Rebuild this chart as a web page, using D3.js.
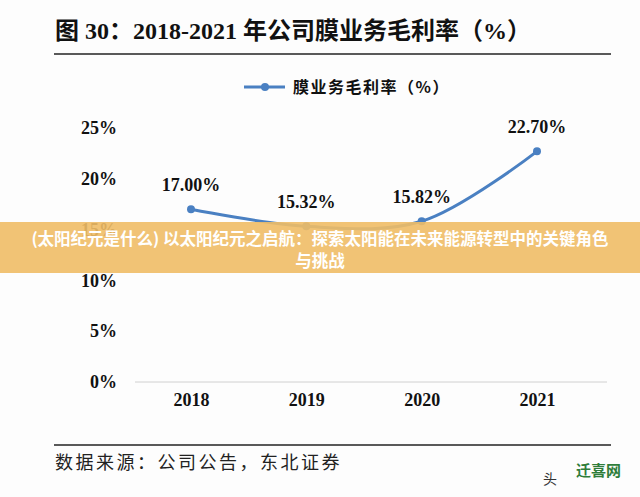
<!DOCTYPE html>
<html>
<head>
<meta charset="utf-8">
<script src="https://cdn.jsdelivr.net/npm/d3@7"></script>
<style>
  body { margin: 0; background: #fff; }
  svg { display: block; }
</style>
</head>
<body>
<div id="chart"></div>
<script>
// chart data
var years = ["2018", "2019", "2020", "2021"];
var margin = [17.00, 15.32, 15.82, 22.70];
var yTicks = [0, 5, 10, 15, 20, 25];
var titleText = "图  30：2018-2021 年公司膜业务毛利率（%）";
var legendText = "膜业务毛利率（%）";
var sourceText = "数据来源：公司公告，东北证券";
var bannerLines = ["(太阳纪元是什么) 以太阳纪元之启航：探索太阳能在未来能源转型中的关键角色", "与挑战"];

var totalWidth = 640, totalHeight = 497;
var serif = "'Liberation Serif', 'Times New Roman', serif";
var cjk = "'Noto Sans CJK SC', sans-serif";
var blue = "#4a80c2";

var svg = d3.select("#chart").append("svg")
    .attr("width", totalWidth)
    .attr("height", totalHeight);

svg.append("rect").attr("width", totalWidth).attr("height", totalHeight).attr("fill", "#fdfdfd");

// title + rules
svg.append("text")
    .attr("x", 55).attr("y", 39)
    .style("font-family", serif + ", " + cjk)
    .style("font-weight", "bold")
    .style("font-size", "24px")
    .attr("fill", "#111")
    .text(titleText);

svg.append("line").attr("x1", 54).attr("x2", 611).attr("y1", 54).attr("y2", 54)
    .attr("stroke", "#222").attr("stroke-width", 1.6);
svg.append("line").attr("x1", 54).attr("x2", 611).attr("y1", 445).attr("y2", 445)
    .attr("stroke", "#222").attr("stroke-width", 1.6);

// scales
var x = d3.scalePoint().domain(years).range([191, 537]);
var y = d3.scaleLinear().domain([0, 25]).range([382, 128]);

// baseline
svg.append("line").attr("x1", 135).attr("x2", 607).attr("y1", y(0)).attr("y2", y(0))
    .attr("stroke", "#d0d0d0").attr("stroke-width", 1);

// y axis labels
var yAxis = d3.axisLeft(y).tickValues(yTicks).tickSize(0).tickPadding(0)
    .tickFormat(function(d) { return d + "%"; });
var yA = svg.append("g").attr("transform", "translate(117,0)").call(yAxis);
yA.select(".domain").remove();
yA.selectAll("text")
    .style("font-family", serif).style("font-weight", "bold").style("font-size", "18px")
    .attr("fill", "#111");

// x axis labels
var xAxis = d3.axisBottom(x).tickSize(0).tickPadding(0);
var xA = svg.append("g").attr("transform", "translate(0,393)").call(xAxis);
xA.select(".domain").remove();
xA.selectAll("text")
    .style("font-family", serif).style("font-weight", "bold").style("font-size", "18px")
    .attr("fill", "#111");

// line
var line = d3.line()
    .x(function(d, i) { return x(years[i]); })
    .y(function(d) { return y(d); })
    .curve(d3.curveCatmullRom.alpha(0.5));

svg.append("path")
    .datum(margin)
    .attr("d", line)
    .attr("fill", "none")
    .attr("stroke", blue)
    .attr("stroke-width", 3);

svg.selectAll(".dot")
    .data(margin)
    .enter().append("circle")
    .attr("class", "dot")
    .attr("cx", function(d, i) { return x(years[i]); })
    .attr("cy", function(d) { return y(d); })
    .attr("r", 4)
    .attr("fill", blue);

svg.selectAll(".vlabel")
    .data(margin)
    .enter().append("text")
    .attr("class", "vlabel")
    .attr("x", function(d, i) { return x(years[i]); })
    .attr("y", function(d) { return y(d) - 18; })
    .attr("text-anchor", "middle")
    .style("font-family", serif).style("font-weight", "bold").style("font-size", "18px")
    .attr("fill", "#111")
    .text(function(d) { return d.toFixed(2) + "%"; });

// legend
svg.append("line").attr("x1", 244).attr("x2", 285).attr("y1", 87).attr("y2", 87)
    .attr("stroke", blue).attr("stroke-width", 3);
svg.append("circle").attr("cx", 265).attr("cy", 87).attr("r", 4).attr("fill", blue);
svg.append("text")
    .attr("x", 293).attr("y", 93)
    .style("font-family", cjk).style("font-weight", "bold").style("font-size", "16px")
    .style("letter-spacing", "1.5px")
    .attr("fill", "#111")
    .text(legendText);

// source
svg.append("text")
    .attr("x", 55).attr("y", 469)
    .style("font-family", cjk).style("font-size", "18px")
    .style("letter-spacing", "2.5px")
    .attr("fill", "#222")
    .text(sourceText);

// overlay banner
svg.append("rect").attr("x", 0).attr("y", 222).attr("width", totalWidth).attr("height", 51)
    .attr("fill", "#efbd66").attr("opacity", 0.9);
svg.selectAll(".banner")
    .data(bannerLines)
    .enter().append("text")
    .attr("class", "banner")
    .attr("x", 320)
    .attr("y", function(d, i) { return 245 + i * 22; })
    .attr("text-anchor", "middle")
    .style("font-family", cjk).style("font-weight", "bold").style("font-size", "16.5px")
    .attr("fill", "#fff")
    .text(function(d) { return d; });

// watermark
svg.append("text").attr("x", 543).attr("y", 484)
    .style("font-family", cjk).style("font-size", "14px").attr("fill", "#333").text("头");
svg.append("text").attr("x", 576).attr("y", 476)
    .style("font-family", cjk).style("font-weight", "bold").style("font-size", "15px")
    .attr("fill", "#2f7d3a").text("迁喜网");
</script>
</body>
</html>
